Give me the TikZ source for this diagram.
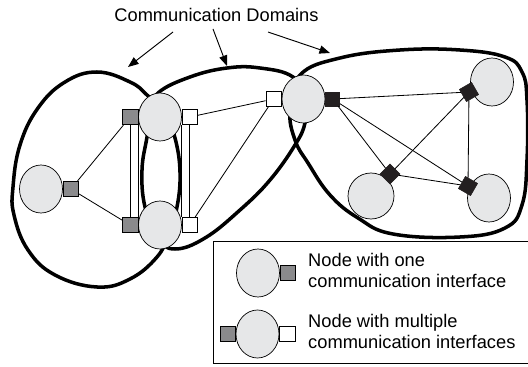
\documentclass[tikz,border=0pt]{standalone}
\usepackage{fontspec}
\setmainfont{Liberation Sans}
\usepackage{tikz}
\usetikzlibrary{shapes.geometric, arrows.meta, positioning, calc}
\definecolor{hostfill}{RGB}{230, 231, 232}
\definecolor{ifgray}{RGB}{138, 138, 140}
\definecolor{ifblack}{RGB}{35, 31, 32}

\begin{document}
\begin{tikzpicture}[x=0.03cm, y=-0.03cm,
          host/.style={ellipse, fill=hostfill, draw=black, line width=0.6pt, minimum width=1.29cm, minimum height=1.44cm, inner sep=0pt},
          ifgrey/.style={rectangle, fill=ifgray, draw=black, line width=0.5pt, minimum size=0.465cm, inner sep=0pt},
          ifwhite/.style={rectangle, fill=white, draw=black, line width=0.5pt, minimum size=0.465cm, inner sep=0pt},
          ifdark/.style={rectangle, fill=ifblack, draw=ifblack, line width=0.5pt, minimum size=0.42cm, inner sep=0pt},
          cdomain/.style={line width=3pt, line join=round},
          link/.style={line width=0.7pt},
          legtext/.style={font=\fontsize{15.6}{17.6}\selectfont, align=left, anchor=base west, inner sep=0pt},
          pointer/.style={line width=0.8pt, -{Triangle[length=9pt, width=7pt]}}
        ]
          \useasboundingbox (0,0) rectangle (528,367);

          % Domains
          \draw[cdomain] plot[smooth cycle, tension=0.7] coordinates {(97,72) (130,82) (147,95) (165,115) (175,138) (180,172) (177,207) (168,235) (157,257) (130,279) (97,287) (55,275) (28,250) (14,215) (13,187) (20,145) (38,108) (65,82)};
          \draw[cdomain] plot[smooth cycle, tension=0.7] coordinates {(158,93) (190,77) (227,68) (260,68) (293,77) (306,100) (305,123) (295,145) (270,180) (240,210) (205,238) (175,249) (158,238) (145,207) (142,170) (147,137) (151,112)};
          \draw[cdomain] plot[smooth cycle, tension=0.7] coordinates {(300,75) (340,58) (400,50) (460,50) (505,57) (522,72) (527,100) (527,160) (522,205) (505,228) (460,237) (393,234) (358,218) (330,195) (308,163) (295,140) (290,110)};

          % Hosts
          \node[host] (l) at (41,189) {};
          \node[host] (a) at (160,117) {};
          \node[host] (b) at (160,225) {};
          \node[host] (c) at (303.5,99) {};
          \node[host] (d) at (492,82) {};
          \node[host, minimum width=1.38cm, minimum height=1.38cm] (e) at (371,196) {};
          \node[host] (f) at (489,198) {};

          % Interfaces
          \node[ifgrey, right=0pt of l] (lp) {};
          \node[ifgrey, left=0pt of a] (aw) {};
          \node[ifwhite, right=0pt of a] (ae) {};
          \node[ifgrey, left=0pt of b] (bw) {};
          \node[ifwhite, right=0pt of b] (be) {};
          \node[ifwhite, left=0pt of c] (cw) {};
          \node[ifdark, right=0pt of c] (ce) {};
          \node[ifdark, rotate=30] (dp) at (469,92) {};
          \node[ifdark, rotate=45] (ep) at (390,174) {};
          \node[ifdark, rotate=60] (fp) at (468,186) {};

          % Links
          \draw[link] (lp) -- (aw);
          \draw[link] (lp) -- (bw);
          \draw[link] (aw.south) -- (bw.north);
          \draw[link] (aw.south east) -- (bw.north east);
          \draw[link] (ae.south) -- (be.north);
          \draw[link] (ae.south west) -- (be.north west);
          \draw[link] (ae) -- (cw);
          \draw[link] (be) -- (cw);
          \draw[link] (ce) -- (dp);
          \draw[link] (ce) -- (ep);
          \draw[link] (ce) -- (fp);
          \draw[link] (dp) -- (ep);
          \draw[link] (dp) -- (fp);
          \draw[link] (ep) -- (fp);

          % Title and pointers
          \node[font=\fontsize{15.6}{17.6}\selectfont, anchor=base, inner sep=0pt] (title) at (216.5,21.7) {Communication Domains};
          \coordinate (s1) at (173,32);
          \coordinate (e1) at (128,67);
          \coordinate (s2) at (213,29);
          \coordinate (e2) at (227,66);
          \coordinate (s3) at (268,32);
          \coordinate (e3) at (330,53);
          \draw[pointer] (s1) -- (e1);
          \draw[pointer] (s2) -- (e2);
          \draw[pointer] (s3) -- (e3);

          % Legend
          \draw[line width=0.6pt, fill=white] (213,241) rectangle (540,363);
          \node[host] (k1) at (258,273) {};
          \node[ifgrey, right=0pt of k1] (k1p) {};
          \node[host] (k2) at (257.5,334) {};
          \node[ifgrey, left=0pt of k2] (k2w) {};
          \node[ifwhite, right=0pt of k2] (k2e) {};
          \node[legtext] (t1) at (308,287) {Node with one\\communication interface};
          \node[legtext] (t2) at (308,348) {Node with multiple\\communication interfaces};
        \end{tikzpicture}
\end{document}
